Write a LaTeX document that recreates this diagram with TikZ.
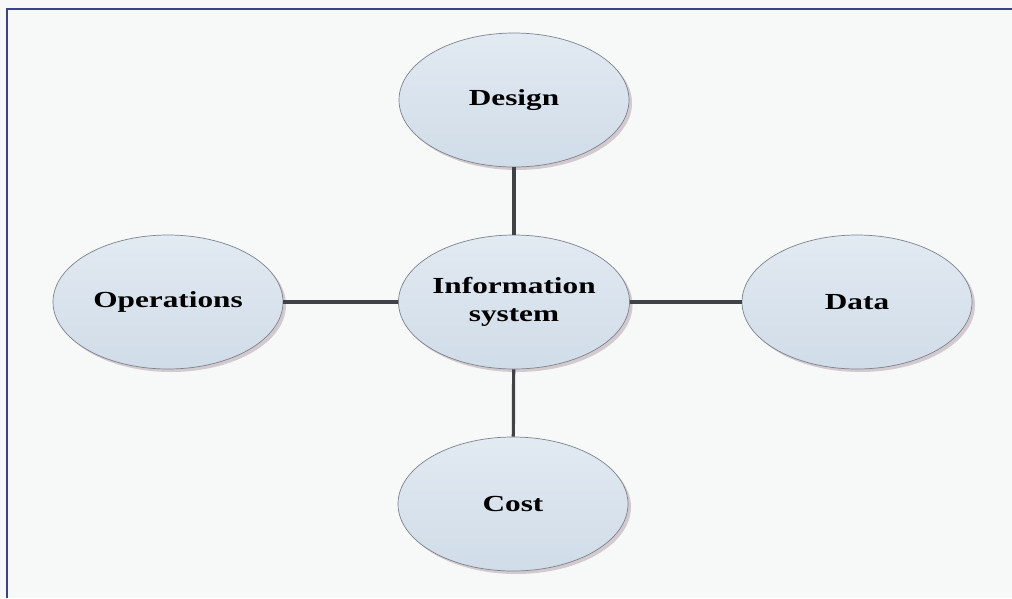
\documentclass[tikz,border=0pt]{standalone}
\usepackage{fontspec}
\setmainfont{Liberation Serif}
\usetikzlibrary{shapes.geometric,shadows}
\definecolor{pagebg}{HTML}{F7F9F8}
\definecolor{framecol}{HTML}{3C4290}
\definecolor{ovalfill}{HTML}{D0DCE8}
\definecolor{ovaltop}{HTML}{E2EAF2}
\definecolor{ovalline}{HTML}{7E828C}
\definecolor{linkcol}{HTML}{404248}
\definecolor{shadowcol}{HTML}{C9BFC4}
\tikzset{
  topic/.style={ellipse, draw=ovalline, line width=0.7pt,
    top color=ovaltop, bottom color=ovalfill,
    minimum width=230pt, minimum height=134pt, inner sep=0pt,
    font=\fontsize{23}{30}\selectfont\bfseries, align=center,
    drop shadow={shadow xshift=3pt, shadow yshift=-3pt, fill=shadowcol, opacity=0.8}},
  link/.style={draw=linkcol, line width=3.2pt},
  framerule/.style={fill=framecol},
}
\newcommand{\wide}[1]{\scalebox{1.36}[1]{#1}}
\begin{document}
\begin{tikzpicture}[x=1pt, y=-1pt]
  \useasboundingbox (0,0) rectangle (1012,598);
  \fill[pagebg] (0,0) rectangle (1012,598);
  % outer frame: its left and top rules show, the others run off the sheet
  \coordinate (frameTL) at (6.2,8.2);
  \coordinate (frameBL) at (7.8,598);
  \coordinate (frameTR) at (1012,9.8);
  \path[framerule] (frameTL) rectangle (frameBL);
  \path[framerule] (frameTL) rectangle (frameTR);

  \node[topic] (info) at (514,302) {\wide{Information}\\[-2pt]\wide{system}};
  \node[topic] (design) at (514,100) {\wide{Design}};
  \node[topic] (ops) at (168,302) {\wide{Operations}};
  \node[topic] (data) at (857,302) {\wide{Data}};
  \node[topic] (cost) at (513,504) {\wide{Cost}};

  \draw[link] (design) -- (info);
  \draw[link] (ops) -- (info);
  \draw[link] (info) -- (data);
  \draw[link] (info) -- (cost);
\end{tikzpicture}
\end{document}
